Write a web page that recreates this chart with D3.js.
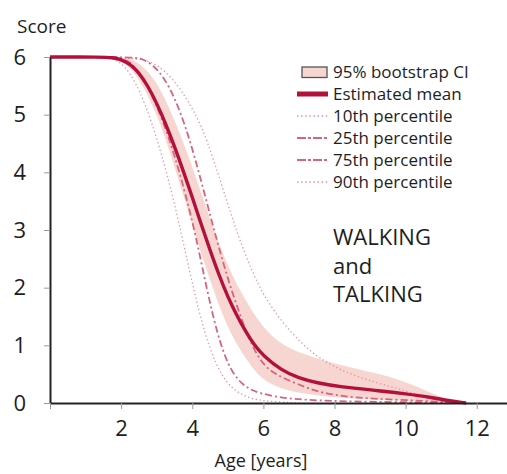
<!DOCTYPE html>
<html>
<head>
<meta charset="utf-8">
<script src="https://cdn.jsdelivr.net/npm/d3@7"></script>
<style>
  body { margin: 0; background: #fff; }
  svg { font-family: "Open Sans", sans-serif; }
</style>
</head>
<body>
<svg id="chart" width="507" height="474"></svg>
<script>
// values: [age, score]
const meanCurve = [[0,6],[1.5,6],[1.75,5.99],[2,5.96],[2.25,5.88],[2.5,5.73],[2.75,5.5],[3.0,5.2],[3.25,4.85],[3.5,4.45],[3.75,4.02],[4.0,3.57],[4.25,3.1],[4.5,2.65],[4.75,2.22],[5.0,1.84],[5.25,1.52],[5.5,1.24],[5.75,1.0],[6.0,0.82],[6.5,0.57],[7.0,0.43],[7.5,0.35],[8.15,0.28],[9.3,0.21],[10.0,0.16],[10.7,0.1],[11.2,0.04],[11.7,0]];
const p10Curve = [[0,6],[1.5,6],[1.8,5.97],[2.1,5.85],[2.4,5.57],[2.7,5.15],[3.0,4.6],[3.3,3.95],[3.6,3.2],[3.9,2.35],[4.2,1.55],[4.5,0.92],[4.8,0.5],[5.1,0.26],[5.5,0.1],[6.0,0.03],[7.0,0]];
const p25Curve = [[0,6],[2.0,6],[2.3,5.9],[2.6,5.66],[2.9,5.3],[3.2,4.85],[3.5,4.3],[3.8,3.65],[4.1,2.9],[4.4,2.0],[4.7,1.2],[5.0,0.66],[5.3,0.38],[5.6,0.24],[5.9,0.17],[6.46,0.09],[7.5,0.04],[9,0.02],[11.7,0]];
const p75Curve = [[0,6],[2.3,6],[2.6,5.97],[2.9,5.86],[3.2,5.65],[3.5,5.3],[3.8,4.82],[4.1,4.2],[4.4,3.5],[4.7,2.8],[5.0,2.15],[5.3,1.6],[5.6,1.1],[5.9,0.74],[6.2,0.55],[6.6,0.42],[7.2,0.27],[7.6,0.18],[8.5,0.09],[10,0.05],[11.7,0]];
const p90Curve = [[0,6],[2.5,6],[3.0,5.88],[3.5,5.6],[3.9,5.22],[4.27,4.8],[4.6,4.22],[5.0,3.45],[5.3,2.88],[5.67,2.3],[6.0,1.87],[6.5,1.42],[7.0,1.08],[7.5,0.8],[8.2,0.56],[8.9,0.4],[10.1,0.19],[10.9,0.05],[11.5,0]];
const bandAge  = [0,1.8,2.2,2.5,2.8,3.1,3.4,3.7,4.0,4.3,4.6,4.9,5.2,5.5,5.8,6.1,6.5,7.0,7.9,8.7,9.5,10.2,10.8,11.3,11.7];
const bandHigh = [6,6,5.98,5.9,5.72,5.45,5.05,4.6,4.1,3.55,3.02,2.52,2.12,1.78,1.48,1.24,1.02,0.87,0.7,0.58,0.47,0.32,0.15,0.04,0];
const bandLow  = [6,5.99,5.85,5.62,5.28,4.85,4.3,3.7,3.1,2.5,1.95,1.45,1.07,0.77,0.52,0.36,0.25,0.17,0.1,0.07,0.05,0.03,0.02,0.01,0];
const xTicks = [0,2,4,6,8,10,12];
const yTicks = [0,1,2,3,4,5,6];
const legendLabels = ["95% bootstrap CI","Estimated mean","10th percentile","25th percentile","75th percentile","90th percentile"];
const noteLines = ["WALKING","and","TALKING"];

const svg = d3.select("#chart");

const meanColor = "#b3103b";
const dashColor = "#d8637d";
const dotColor = "#e8909f";
const bandColor = "#f7d6d1";
const textColor = "#1e1e1e";

const xScale = d3.scaleLinear().domain([0, 12.85]).range([50, 507]);
const yScale = d3.scaleLinear().domain([0, 6]).range([403, 57]);

const lineGen = d3.line()
  .x((d) => xScale(d[0]))
  .y((d) => yScale(d[1]))
  .curve(d3.curveBasis);

const bandData = bandAge.map((a, i) => ({ age: a, lo: bandLow[i], hi: bandHigh[i] }));
const areaGen = d3.area()
  .x((d) => xScale(d.age))
  .y0((d) => yScale(d.lo))
  .y1((d) => yScale(d.hi))
  .curve(d3.curveBasis);

// band
svg.append("path").attr("d", areaGen(bandData)).attr("fill", bandColor);

// percentile lines
const styles = [
  { data: p10Curve, color: dotColor, width: 1.3, dash: "1.3,2.6" },
  { data: p90Curve, color: dotColor, width: 1.3, dash: "1.3,2.6" },
  { data: p25Curve, color: dashColor, width: 1.8, dash: "7,3,2,3" },
  { data: p75Curve, color: dashColor, width: 1.8, dash: "7,3,2,3" },
];
styles.forEach((s) => {
  svg.append("path")
    .attr("d", lineGen(s.data))
    .attr("fill", "none")
    .attr("stroke", s.color)
    .attr("stroke-width", s.width)
    .attr("stroke-dasharray", s.dash);
});

// mean
svg.append("path")
  .attr("d", lineGen(meanCurve))
  .attr("fill", "none")
  .attr("stroke", meanColor)
  .attr("stroke-width", 3.4);

// axes
const yAxis = d3.axisLeft(yScale).tickValues(yTicks).tickSize(6).tickSizeOuter(0).tickPadding(18)
  .tickFormat(d3.format("d"));
const xAxis = d3.axisBottom(xScale).tickValues(xTicks).tickSize(6).tickSizeOuter(0).tickPadding(11)
  .tickFormat((d) => (d === 0 ? "" : d));

const yAxisG = svg.append("g").attr("transform", "translate(50,0)").call(yAxis);
const xAxisG = svg.append("g").attr("transform", "translate(0,403)").call(xAxis);

[yAxisG, xAxisG].forEach((g) => {
  g.select(".domain").attr("stroke", "#222").attr("stroke-width", 2);
  g.selectAll(".tick line").attr("stroke", "#999");
  g.selectAll(".tick text").attr("fill", textColor).style("font-size", "22px").attr("font-family", "Open Sans");
});

svg.append("text").attr("x", 17).attr("y", 33).attr("fill", textColor)
  .style("font-size", "19px").text("Score");
svg.append("text").attr("x", 261).attr("y", 467).attr("text-anchor", "middle")
  .attr("fill", textColor).style("font-size", "18px").text("Age [years]");

// legend
const legend = svg.append("g");
const rowY = (i) => 72 + i * 22;
legend.append("rect").attr("x", 302).attr("y", rowY(0) - 5).attr("width", 25).attr("height", 10.5)
  .attr("fill", bandColor).attr("stroke", "#555").attr("stroke-width", 1.3);
const legendLines = [
  null,
  { color: meanColor, width: 5, dash: null },
  { color: dotColor, width: 1.5, dash: "1.5,2.6" },
  { color: dashColor, width: 1.8, dash: "9,2,3,2" },
  { color: dashColor, width: 1.8, dash: "9,2,3,2" },
  { color: dotColor, width: 1.5, dash: "1.5,2.6" },
];
legendLines.forEach((s, i) => {
  if (!s) return;
  legend.append("line")
    .attr("x1", 297).attr("x2", 328).attr("y1", rowY(i)).attr("y2", rowY(i))
    .attr("stroke", s.color).attr("stroke-width", s.width)
    .attr("stroke-dasharray", s.dash);
});
legend.selectAll("text.leg").data(legendLabels).enter().append("text")
  .attr("class", "leg")
  .attr("x", 333).attr("y", (d, i) => rowY(i)).attr("dy", "0.36em")
  .attr("fill", textColor).style("font-size", "17px")
  .text((d) => d);

svg.selectAll("text.note").data(noteLines).enter().append("text")
  .attr("class", "note")
  .attr("x", 333).attr("y", (d, i) => 245 + i * 28.5)
  .attr("fill", textColor).style("font-size", "22px")
  .text((d) => d);
</script>
</body>
</html>
